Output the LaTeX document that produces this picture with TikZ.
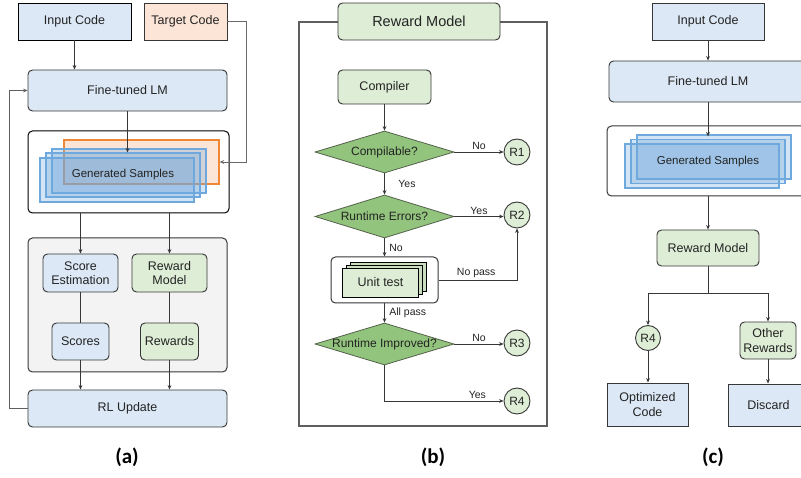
\documentclass[tikz,border=0pt]{standalone}
\usepackage{fontspec}
\setmainfont{Liberation Sans}
\newfontfamily\capfont{Carlito}
\usetikzlibrary{shapes.geometric,arrows.meta,calc}

\definecolor{bluefill}{RGB}{220,232,245}
\definecolor{greenfill}{RGB}{222,237,214}
\definecolor{diafill}{RGB}{147,196,125}
\definecolor{peach}{RGB}{252,229,214}
\definecolor{orangeline}{RGB}{240,135,55}
\definecolor{panelgray}{RGB}{243,243,243}
\definecolor{sampleblue}{RGB}{111,168,220}
\definecolor{edge}{RGB}{55,55,55}
\definecolor{frameline}{RGB}{95,95,95}
\definecolor{txt}{RGB}{35,35,35}
\definecolor{stackgreen}{RGB}{200,222,190}

\tikzset{
  base/.style={draw=edge, line width=0.95pt, inner sep=1pt, align=center,
    text=txt, font=\fontsize{12.5}{14.5}\selectfont},
  sharpblue/.style={base, fill=bluefill},
  roundblue/.style={base, fill=bluefill, rounded corners=4.5pt},
  roundgreen/.style={base, fill=greenfill, rounded corners=4.5pt},
  container/.style={draw=edge, line width=1pt, rounded corners=4.5pt, fill=white},
  samplebox/.style={draw=sampleblue, line width=1.1pt, fill=sampleblue, fill opacity=0.3, draw opacity=1},
  decision/.style={diamond, draw=edge!70!diafill, line width=0.8pt, fill=diafill, inner sep=0pt},
  decisiontext/.style={text=txt, font=\fontsize{12}{14}\selectfont, inner sep=0pt},
  reward/.style={circle, draw=edge, line width=0.9pt, fill=greenfill, inner sep=0pt,
    minimum size=26pt, text=txt, font=\fontsize{12}{14}\selectfont},
  stackbox/.style={draw=black, line width=0.9pt, fill=stackgreen},
  conn/.style={draw=edge, line width=0.8pt},
  arr/.style={conn, -{Stealth[length=4.5pt,width=3.8pt]}},
  elabel/.style={font=\fontsize{10.5}{12}\selectfont, text=txt, inner sep=1.5pt},
  caption/.style={font=\capfont\bfseries\fontsize{21}{24}\selectfont, text=black}
}

\begin{document}
\begin{tikzpicture}[x=1pt,y=-1pt]
\path[use as bounding box] (0,0) rectangle (801,478);
\clip (0,0) rectangle (801,478);

% ---------------- panel (a): RL fine-tuning loop ----------------
\node[sharpblue, draw=black, minimum width=113pt, minimum height=37pt] (inA) at (74.5,21.5) {Input Code};
\node[base, fill=peach, minimum width=83pt, minimum height=37pt] (tgtA) at (185.5,21.5) {Target Code};
\node[roundblue, minimum width=199pt, minimum height=41pt] (lmA) at (127.5,90.5) {Fine-tuned LM};

\node[container, draw=black, minimum width=201pt, minimum height=82pt] (genA) at (128.5,172) {};
\node[draw=orangeline, line width=1.2pt, fill=peach, minimum width=155pt, minimum height=44pt] (orA) at (141.5,162) {};
\node[samplebox, minimum width=154pt, minimum height=44pt] (b1A) at (129,171) {};
\node[samplebox, minimum width=154pt, minimum height=44pt] (b2A) at (123,175) {};
\node[samplebox, minimum width=154pt, minimum height=44pt] (b3A) at (117,180) {};
\node[text=txt, font=\fontsize{11.5}{13}\selectfont] (gsA) at (b2A.center) {Generated Samples};

\node[container, fill=panelgray, minimum width=199pt, minimum height=134pt] (grayA) at (127.5,305) {};
\node[roundblue, minimum width=75pt, minimum height=38pt] (seA) at (80.5,273) {Score\\Estimation};
\node[roundgreen, minimum width=75pt, minimum height=38pt] (rmA) at (169.5,273) {Reward\\Model};
\node[roundblue, minimum width=57pt, minimum height=37pt] (scA) at (80.5,341.5) {Scores};
\node[roundgreen, minimum width=58pt, minimum height=37pt] (rwA) at (169.5,341.5) {Rewards};
\node[roundblue, minimum width=199pt, minimum height=37pt] (rlA) at (127.5,408.5) {RL Update};
\node[caption] (labA) at (127,457) {(a)};

\draw[arr] (inA.south) -- (inA.south |- lmA.north);
\draw[arr] (lmA.south) -- (lmA.south |- b2A.north);
\draw[arr, draw=edge!75] (tgtA.east) -- ++(19,0) |- (orA.east);
\draw[arr] (genA.south -| seA.north) -- (seA.north);
\draw[arr] (genA.south -| rmA.north) -- (rmA.north);
\draw[conn] (seA.south) -- (scA.north);
\draw[conn] (rmA.south) -- (rwA.north);
\draw[arr] (scA.south) -- (scA.south |- rlA.north);
\draw[arr] (rwA.south) -- (rwA.south |- rlA.north);
\draw[arr, draw=edge!80] (rlA.west) -- ++(-18,0) |- (lmA.west);

% ---------------- panel (b): reward model ----------------
\node[draw=frameline, line width=1.1pt, minimum width=248pt, minimum height=404pt] (frameB) at (423,224) {};
\node[roundgreen, minimum width=162pt, minimum height=37pt, font=\fontsize{14.5}{16}\selectfont] (titleB) at (419,21.5) {Reward Model};
\node[roundgreen, minimum width=93pt, minimum height=34pt] (compB) at (384.5,87) {Compiler};
\node[decision, minimum width=139pt, minimum height=42pt,
      label={[decisiontext]center:Compilable?}] (d1) at (384.5,152) {};
\node[reward] (r1) at (517,152) {R1};
\node[decision, minimum width=139pt, minimum height=43pt,
      label={[decisiontext]center:Runtime Errors?}] (d2) at (384.5,216.5) {};
\node[reward] (r2) at (517,215) {R2};
\node[container, minimum width=107pt, minimum height=46pt] (utB) at (384.5,280) {};
\node[stackbox, minimum width=76pt, minimum height=29pt] (u1) at (388,277) {};
\node[stackbox, minimum width=76pt, minimum height=29pt] (u2) at (384.5,279.5) {};
\node[stackbox, fill=greenfill, minimum width=76pt, minimum height=29pt, text=txt,
      font=\fontsize{12.5}{14}\selectfont] (u3) at (380.5,282.5) {Unit test};
\node[decision, minimum width=139pt, minimum height=42pt,
      label={[decisiontext]center:Runtime Improved?}] (d3) at (384.5,344) {};
\node[reward] (r3) at (517,343) {R3};
\node[reward] (r4) at (517,401) {R4};
\node[caption] (labB) at (433,457) {(b)};

\draw[arr] (compB.south) -- (d1.north);
\draw[arr] (d1.east) -- node[elabel, above] {No} (d1.east -| r1.west);
\draw[arr] (d1.south) -- node[elabel, right, xshift=12pt] {Yes} (d2.north);
\draw[arr] (d2.east) -- node[elabel, above] {Yes} (d2.east -| r2.west);
\draw[arr] (d2.south) -- node[elabel, right, xshift=3pt] {No} (utB.north);
\draw[arr] (utB.east) -| node[elabel, above, pos=0.24] {No pass} (r2.south);
\draw[arr] (utB.south) -- node[elabel, right, xshift=3pt] {All pass} (d3.north);
\draw[arr] (d3.east) -- node[elabel, above] {No} (d3.east -| r3.west);
\draw[arr] (d3.south) |- node[elabel, above, pos=0.89] {Yes} (r4.west);

% ---------------- panel (c): inference ----------------
\node[sharpblue, minimum width=112pt, minimum height=37pt] (inC) at (708,21.5) {Input Code};
\node[roundblue, minimum width=198pt, minimum height=41pt] (lmC) at (708,81.5) {Fine-tuned LM};
\node[container, minimum width=202pt, minimum height=70pt] (genC) at (708,161) {};
\node[samplebox, minimum width=154pt, minimum height=44pt] (c1) at (714,157) {};
\node[samplebox, minimum width=154pt, minimum height=44pt] (c2) at (708,161.5) {};
\node[samplebox, minimum width=154pt, minimum height=44pt] (c3) at (702,166) {};
\node[text=txt, font=\fontsize{11.5}{13}\selectfont] (gsC) at (c2.center) {Generated Samples};
\node[roundgreen, minimum width=102pt, minimum height=36pt] (rmC) at (708,248) {Reward Model};
\coordinate (splC) at (708,293);
\node[reward, minimum size=25pt] (r4C) at (648,338) {R4};
\node[roundgreen, minimum width=56pt, minimum height=37pt] (othC) at (768,340.5) {Other\\Rewards};
\node[sharpblue, minimum width=81pt, minimum height=43pt] (optC) at (647.5,404.5) {Optimized\\Code};
\node[sharpblue, minimum width=81pt, minimum height=42pt] (disC) at (768.5,405) {Discard};
\node[caption] (labC) at (713,457) {(c)};

\draw[arr] (inC.south) -- (lmC.north);
\draw[arr] (lmC.south) -- ($(lmC.south |- c1.north)+(0,2)$);
\draw[arr] (genC.south) -- (rmC.north);
\draw[conn] (rmC.south) -- (splC);
\draw[arr] (splC) -| (r4C.north);
\draw[arr] (splC) -| (othC.north);
\draw[arr] (r4C.south) -- (r4C.south |- optC.north);
\draw[arr] (othC.south) -- (othC.south |- disC.north);
\end{tikzpicture}
\end{document}
